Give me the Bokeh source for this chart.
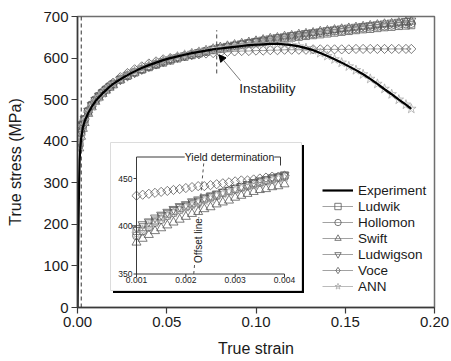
import math
from bokeh.plotting import figure
from bokeh.models import (Range1d, Label, Arrow, NormalHead, Legend, LegendItem,
                          FixedTicker, PrintfTickFormatter)
from bokeh.core.properties import value
from bokeh.embed import file_html
from bokeh.resources import INLINE

FONT = "Liberation Sans"

# ---------------- data (main plot) ----------------
exp_strain = [0, 0.0003, 0.0006, 0.0009, 0.0012, 0.0016, 0.002, 0.003, 0.004, 0.006, 0.008,
              0.010, 0.012, 0.014, 0.016, 0.018, 0.020, 0.024, 0.028, 0.032, 0.036, 0.040,
              0.044, 0.048, 0.052, 0.056, 0.060, 0.064, 0.068, 0.072, 0.076, 0.080, 0.084,
              0.088, 0.092, 0.096, 0.100, 0.104, 0.108, 0.112, 0.116, 0.120, 0.124, 0.128,
              0.132, 0.136, 0.140, 0.144, 0.148, 0.152, 0.156, 0.160, 0.164, 0.168, 0.172,
              0.176, 0.180, 0.184, 0.187]
exp_stress = [0, 100, 210, 300, 355, 385, 405, 433, 448, 468, 483,
              496, 506, 515, 523, 531, 538, 549, 559, 568, 576, 583,
              589, 595, 600, 604, 608, 612, 615, 618, 621, 623, 625,
              627, 629, 631, 632, 633, 634, 634, 633, 631, 628, 624,
              619, 612, 605, 597, 589, 580, 571, 561, 550, 538, 525,
              513, 500, 488, 478]

model_strain = [0.001, 0.002, 0.003, 0.004, 0.006, 0.008, 0.010, 0.012, 0.014, 0.016, 0.018,
                0.020, 0.024, 0.028, 0.032, 0.036, 0.040, 0.044, 0.048, 0.052, 0.056, 0.060,
                0.064, 0.068, 0.072, 0.076, 0.080, 0.084, 0.088, 0.092, 0.096, 0.100, 0.104,
                0.108, 0.112, 0.116, 0.120, 0.124, 0.128, 0.132, 0.136, 0.140, 0.144, 0.148,
                0.152, 0.156, 0.160, 0.164, 0.168, 0.172, 0.176, 0.180, 0.184, 0.187]
ludwik = [395, 421, 439, 452, 471, 486, 498, 508, 516, 524, 531,
          537, 548, 557, 565, 572, 578, 584, 589, 594, 599, 603,
          607, 611, 615, 619, 622, 625, 628, 631, 634, 637, 639,
          642, 644, 647, 649, 651, 653, 655, 657, 659, 661, 663,
          665, 667, 669, 670, 672, 674, 675, 677, 678, 679]
hollomon = [390, 420, 439, 453, 473, 488, 500, 509, 518, 525, 532,
            538, 549, 558, 566, 573, 579, 585, 591, 596, 601, 605,
            609, 613, 617, 621, 624, 627, 630, 633, 636, 639, 642,
            644, 647, 649, 652, 654, 656, 658, 661, 663, 665, 666,
            668, 670, 672, 674, 676, 677, 679, 681, 682, 683]
swift = [383, 411, 430, 444, 466, 482, 495, 505, 514, 522, 529,
         535, 547, 557, 565, 572, 579, 585, 591, 596, 601, 606,
         610, 614, 618, 622, 626, 629, 632, 635, 638, 641, 644,
         647, 649, 652, 654, 657, 659, 661, 664, 666, 668, 670,
         672, 674, 676, 678, 680, 682, 683, 685, 687, 688]
ludwigson = [398, 423, 440, 454, 473, 487, 499, 509, 517, 524, 531,
             537, 548, 557, 565, 573, 580, 586, 592, 597, 602, 606,
             610, 614, 618, 622, 626, 629, 632, 635, 638, 641, 644,
             647, 650, 652, 655, 657, 660, 662, 664, 667, 669, 671,
             673, 675, 677, 679, 681, 683, 685, 687, 689, 690]
voce = [432, 438, 446, 453, 470, 484, 496, 507, 517, 526, 534,
        541, 554, 564, 573, 580, 587, 592, 597, 600, 603, 605,
        607, 609, 611, 612, 613, 615, 616, 617, 617, 618, 618,
        619, 619, 620, 620, 620, 620, 621, 621, 621, 621, 621,
        621, 622, 622, 622, 622, 622, 622, 622, 622, 622]
ann = [392, 412, 436, 450, 469, 484, 497, 506, 515, 523, 531,
       538, 549, 560, 568, 576, 583, 589, 594, 600, 604, 608,
       612, 615, 618, 621, 623, 625, 627, 629, 631, 632, 633,
       634, 634, 633, 631, 628, 624, 619, 612, 605, 597, 589,
       580, 571, 561, 550, 538, 526, 513, 500, 488, 478]

# ---------------- data (inset) ----------------
inset_strain = [0.001, 0.001125, 0.00125, 0.001375, 0.0015, 0.001625, 0.00175, 0.001875,
                0.002, 0.002125, 0.00225, 0.002375, 0.0025, 0.002625, 0.00275, 0.002875,
                0.003, 0.003125, 0.00325, 0.003375, 0.0035, 0.003625, 0.00375, 0.003875, 0.004]
in_ludwik = [395, 399, 403, 406, 410, 413, 416, 419, 421, 424, 426, 429, 431,
             433, 435, 437, 439, 441, 443, 445, 446, 448, 450, 451, 453]
in_hollomon = [390, 395, 399, 404, 407, 411, 414, 417, 420, 423, 425, 428, 430,
               432, 435, 437, 439, 441, 442, 444, 446, 448, 449, 451, 452]
in_swift = [383, 387, 391, 395, 398, 401, 404, 407, 410, 413, 415, 418, 420,
            423, 425, 427, 430, 432, 434, 436, 438, 439, 441, 442, 444]
in_ludwigson = [398, 402, 405, 409, 412, 415, 418, 421, 423, 426, 428, 430, 432,
                434, 436, 438, 440, 442, 444, 446, 448, 449, 451, 452, 454]
in_voce = [432, 433, 434, 435, 436, 437, 438, 439, 440, 441, 442, 442, 443,
           444, 445, 446, 447, 448, 448, 449, 450, 451, 452, 452, 453]
in_ann = [392, 396, 400, 404, 408, 411, 414, 417, 420, 422, 425, 427, 429,
          432, 434, 436, 438, 440, 442, 443, 445, 447, 448, 450, 451]

x_ticks = [0, 0.05, 0.10, 0.15, 0.20]
y_ticks = [0, 100, 200, 300, 400, 500, 600, 700]
inset_x_ticks = [0.001, 0.002, 0.003, 0.004]
inset_x_labels = ["0.001", "0.002", "0.003", "0.004"]
inset_y_ticks = [350, 400, 450]
inset_y_labels = ["350", "400", "450"]

# ---------------- layout constants (pixels) ----------------
W, H = 451, 361
FL, FR, FT, FB = 77, 434, 16, 307          # main frame
IX0_PX, IX1_PX = 136, 284                  # inset x=0.001 / 0.004
IY350_PX, IY450_PX = 273.5, 178            # inset y=350 / 450

sx = (IX1_PX - IX0_PX) / (0.004 - 0.001)
sy = (IY350_PX - IY450_PX) / 100.0
ix_start = 0.001 - (IX0_PX - FL) / sx
ix_end = 0.004 + (FR - IX1_PX) / sx
iy_start = 350 - (FB - IY350_PX) / sy
iy_end = 450 + (IY450_PX - FT) / sy

def ixd(px):
    return ix_start + (px - FL) / sx

def iyd(py):
    return iy_start + (FB - py) / sy

p = figure(width=W, height=H, x_range=Range1d(0, 0.2), y_range=Range1d(0, 700),
           output_backend="svg", toolbar_location=None,
           min_border_left=FL, min_border_right=W - FR, min_border_top=FT,
           min_border_bottom=H - FB)
p.extra_x_ranges = {"ix": Range1d(ix_start, ix_end)}
p.extra_y_ranges = {"iy": Range1d(iy_start, iy_end)}
p.background_fill_color = "white"
p.border_fill_color = "white"
p.outline_line_color = "#6e6e6e"
p.outline_line_width = 1.5
p.xgrid.visible = False
p.ygrid.visible = False

for ax in (p.xaxis[0], p.yaxis[0]):
    ax.axis_line_color = "#3a3a3a"
    ax.axis_line_width = 1.5
    ax.major_tick_line_color = "#3a3a3a"
    ax.major_tick_line_width = 1.2
    ax.major_tick_out = 6
    ax.major_tick_in = 0
    ax.minor_tick_line_color = None
    ax.major_label_text_font = FONT
    ax.major_label_text_font_size = "15px"
    ax.major_label_text_color = "#1a1a1a"
    ax.axis_label_text_font = FONT
    ax.axis_label_text_font_size = "16px"
    ax.axis_label_text_font_style = "normal"
    ax.axis_label_text_color = "#1a1a1a"
    ax.major_label_standoff = 3

p.xaxis.axis_label = "True strain"
p.yaxis.axis_label = "True stress (MPa)"
p.xaxis.ticker = FixedTicker(ticks=x_ticks)
p.yaxis.ticker = FixedTicker(ticks=y_ticks)
p.xaxis.formatter = PrintfTickFormatter(format="%.2f")
p.xaxis.axis_label_standoff = 10
p.yaxis.axis_label_standoff = 16

MC = "#5a5a5a"
LC = "#8a8a8a"
ANN_C = "#a9a9a9"

# vertical offset line near origin
p.segment(x0=[0.0021], y0=[0], x1=[0.0021], y1=[700], line_color="#333333",
          line_width=1, line_dash="4 3")

series = [
    ("Ludwik", ludwik, in_ludwik, dict(marker="square", size=7, angle=0)),
    ("Hollomon", hollomon, in_hollomon, dict(marker="circle", size=8, angle=0)),
    ("Swift", swift, in_swift, dict(marker="triangle", size=9, angle=0)),
    ("Ludwigson", ludwigson, in_ludwigson, dict(marker="inverted_triangle", size=9, angle=0)),
    ("Voce", voce, in_voce, dict(marker="square", size=6.5, angle=math.pi / 4)),
    ("ANN", ann, in_ann, dict(marker="star", size=10, angle=0)),
]

main_renderers = {}
for name, ys, _, mk in series:
    col = ANN_C if name == "ANN" else MC
    lr = p.line(model_strain, ys, line_color=ANN_C if name == "ANN" else LC, line_width=0.8)
    sr = p.scatter(model_strain, ys, fill_color=None, line_color=col, line_width=0.8, **mk)
    if name == "Voce":
        # legend-only proxy glyph, placed outside the visible ranges
        sr = p.scatter([-1.0], [-1000.0], marker="diamond", size=10, fill_color=None,
                       line_color=col, line_width=0.8)
    main_renderers[name] = (lr, sr)

exp_r = p.line(exp_strain, exp_stress, line_color="black", line_width=2.2)

# instability marker
p.segment(x0=[0.078], y0=[563], x1=[0.078], y1=[667], line_color="#444444",
          line_width=1, line_dash="4 3")
p.add_layout(Arrow(end=NormalHead(size=7, fill_color="black", line_color="black"),
                   x_start=0.0913, y_start=546, x_end=0.0792, y_end=608,
                   line_color="#7a7a7a", line_width=1))
p.add_layout(Label(x=0.0906, y=527, text="Instability", text_font=FONT,
                   text_font_size="13.5px", text_color="#1a1a1a",
                   text_align="left", text_baseline="middle"))

# ---------------- inset ----------------
R = dict(x_range_name="ix", y_range_name="iy")
sh = 2.5
p.quad(left=[ixd(110 + sh)], right=[ixd(301 + sh)], top=[iyd(142 + sh)], bottom=[iyd(290 + sh)],
       fill_color="black", line_color=None, **R)
p.quad(left=[ixd(110)], right=[ixd(301)], top=[iyd(142)], bottom=[iyd(290)],
       fill_color="white", line_color="#dcdcdc", line_width=1, **R)

for name, _, iys, mk in series:
    col = ANN_C if name == "ANN" else MC
    p.scatter(inset_strain, iys, fill_color=None, line_color=col, line_width=0.8, **mk, **R)

top_y = iyd(156.5)
AX_C = "#3a3a3a"
# inset axes and frame
p.segment(x0=[0.001, 0.001, 0.001, ixd(280)], y0=[350, 350, top_y, top_y],
          x1=[0.001, 0.004, ixd(280), ixd(280)], y1=[top_y, 350, top_y, iyd(165)],
          line_color=AX_C, line_width=1, **R)
tick_dx = 3 / sx
tick_dy = 3 / sy
p.segment(x0=[0.001 - tick_dx] * len(inset_y_ticks), y0=inset_y_ticks,
          x1=[0.001] * len(inset_y_ticks), y1=inset_y_ticks, line_color=AX_C, line_width=1, **R)
p.segment(x0=inset_x_ticks, y0=[350 - tick_dy] * len(inset_x_ticks),
          x1=inset_x_ticks, y1=[350] * len(inset_x_ticks), line_color=AX_C, line_width=1, **R)
p.text(x=[0.001] * len(inset_y_ticks), y=inset_y_ticks, text=inset_y_labels,
       text_font=value(FONT), text_font_size="8.5px", text_color="#1a1a1a",
       text_align="right", text_baseline="middle", x_offset=-4, **R)
p.text(x=inset_x_ticks, y=[350] * len(inset_x_ticks), text=inset_x_labels,
       text_font=value(FONT), text_font_size="8.5px", text_color="#1a1a1a",
       text_align="center", text_baseline="top", y_offset=3, **R)

# offset line in inset
p.segment(x0=[0.00216], y0=[350], x1=[0.00237], y1=[470], line_color="#555555",
          line_width=1, line_dash="3 3", **R)
p.add_layout(Label(x=0.002257, y=385, text="Offset line", angle=math.pi / 2,
                   text_font=FONT, text_font_size="10px", text_color="#1a1a1a",
                   text_align="center", text_baseline="middle",
                   background_fill_color="white", **R))
p.add_layout(Label(x=ixd(229), y=top_y, text="Yield determination",
                   text_font=FONT, text_font_size="10.5px", text_color="#1a1a1a",
                   text_align="center", text_baseline="middle",
                   background_fill_color="white", **R))

# ---------------- legend ----------------
items = [LegendItem(label="Experiment", renderers=[exp_r])]
for name, _, _, _ in series:
    items.append(LegendItem(label=name, renderers=list(main_renderers[name])))
legend = Legend(items=items, location=(322 - FL, FB - 294))
legend.padding = 0
legend.margin = 0
legend.spacing = 0
legend.glyph_width = 31
legend.glyph_height = 16
legend.label_height = 16
legend.label_standoff = 5
legend.label_text_font = FONT
legend.label_text_font_size = "13.5px"
legend.label_text_color = "#1a1a1a"
legend.border_line_alpha = 0
legend.background_fill_alpha = 0
p.add_layout(legend)

open("out.html", "w").write(file_html(p, INLINE))
